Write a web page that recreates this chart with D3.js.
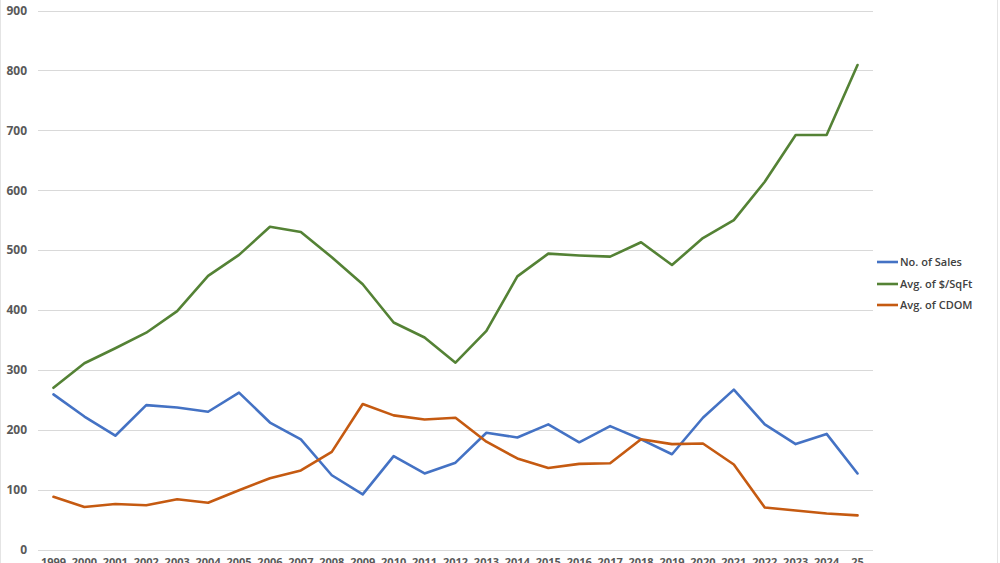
<!DOCTYPE html>
<html><head><meta charset="utf-8">
<script src="https://cdn.jsdelivr.net/npm/d3@7"></script>
<style>body{margin:0;background:#fff;}svg{display:block;}</style>
</head><body>
<script>
const years = ["1999","2000","2001","2002","2003","2004","2005","2006","2007","2008","2009","2010","2011","2012","2013","2014","2015","2016","2017","2018","2019","2020","2021","2022","2023","2024","25"];
const sales = [259,222,190,241,237,230,262,212,184,124,92,156,127,145,195,187,209,179,206,184,159,220,267,209,176,193,127];
const sqft = [270,311,336,362,398,457,492,539,530,488,443,379,354,312,365,456,494,491,489,513,475,520,550,614,692,692,809];
const cdom = [88,71,76,74,84,78,99,119,132,163,243,224,217,220,180,152,136,143,144,184,176,177,142,70,65,60,57];
const yTicks = [0,100,200,300,400,500,600,700,800,900];
const seriesNames = ["No. of Sales","Avg. of $/SqFt","Avg. of CDOM"];
const colors = ["#4472C4","#548235","#C55A11"];
const seriesData = [sales, sqft, cdom];

const W=1000,H=563;
const svg=d3.select("body").append("svg").attr("width",W).attr("height",H);
svg.append("rect").attr("x",0.5).attr("y",-1).attr("width",W-3).attr("height",H+2).attr("fill","none").attr("stroke","#e4e4e4");

const x=d3.scaleBand().domain(years).range([38,873]);
const y=d3.scaleLinear().domain([0,900]).range([549.5,10.5]);

const grid=svg.append("g");
grid.selectAll("line").data(yTicks).join("line")
  .attr("x1",38).attr("x2",873).attr("y1",d=>Math.round(y(d))+0.5).attr("y2",d=>Math.round(y(d))+0.5)
  .attr("stroke","#d9d9d9").attr("stroke-width",1);

const yAxis=d3.axisLeft(y).tickValues(yTicks).tickSize(0).tickPadding(0);
const ya=svg.append("g").attr("transform","translate(27,0)").call(yAxis);
ya.select(".domain").remove();
ya.selectAll("text").attr("font-family","Open Sans, Liberation Sans, sans-serif").attr("font-size","12px").attr("font-weight","bold").attr("fill","#595959");

const xAxis=d3.axisBottom(x).tickSize(0).tickPadding(0);
const xa=svg.append("g").attr("transform","translate(0,558)").call(xAxis);
xa.select(".domain").remove();
xa.selectAll("text").attr("font-family","Open Sans, Liberation Sans, sans-serif").attr("font-size","11px").attr("font-weight","bold").attr("fill","#595959");

const line=d3.line().x((d,i)=>x(years[i])+x.bandwidth()/2).y(d=>y(d));
svg.append("g").selectAll("path").data(seriesData).join("path")
  .attr("d",d=>line(d)).attr("fill","none").attr("stroke",(d,i)=>colors[i])
  .attr("stroke-width",2.6).attr("stroke-linejoin","round").attr("stroke-linecap","round");

const lg=svg.append("g");
const ly=[262,284,305];
seriesNames.forEach((n,i)=>{
  lg.append("line").attr("x1",877).attr("x2",898).attr("y1",ly[i]).attr("y2",ly[i]).attr("stroke",colors[i]).attr("stroke-width",2.6);
  lg.append("text").attr("x",900).attr("y",ly[i]).attr("dy","0.35em").text(n)
    .attr("font-family","Open Sans, Liberation Sans, sans-serif").attr("font-size","11px").attr("font-weight","600").attr("fill","#404040");
});
</script>
</body></html>
